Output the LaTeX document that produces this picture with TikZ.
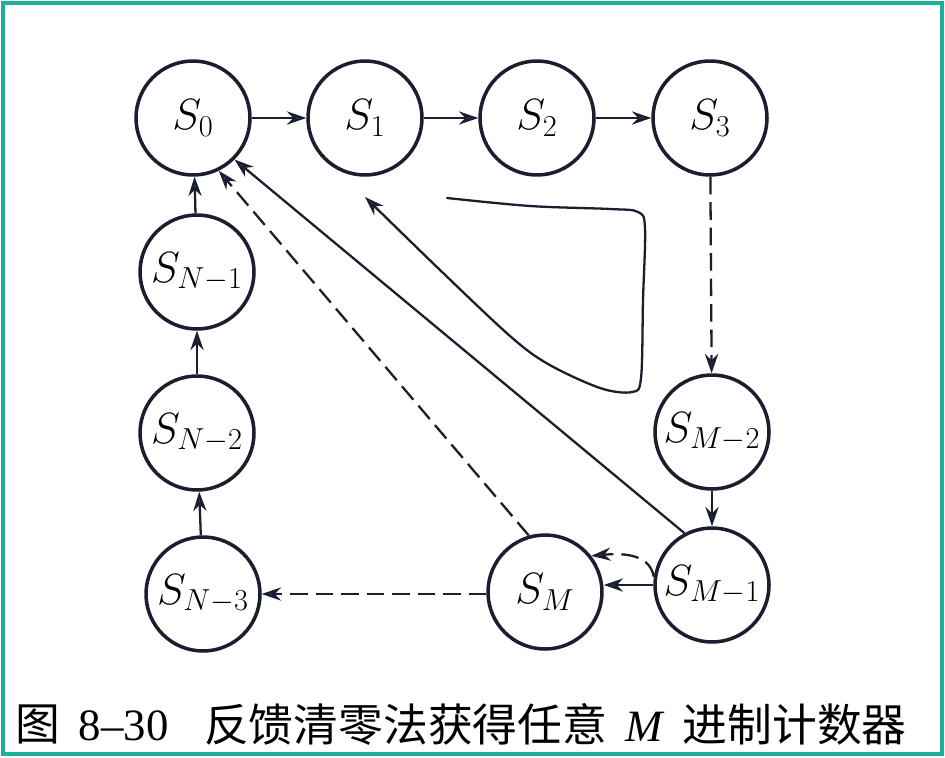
\documentclass[tikz,border=0pt]{standalone}
\usepackage{fontspec}
\newfontfamily\cjk{Noto Sans CJK SC}
\newfontfamily\numfont{Liberation Serif}
\usetikzlibrary{arrows.meta}
\definecolor{frameteal}{RGB}{28,176,156}
\definecolor{inkblue}{RGB}{26,30,46}
\definecolor{tipblue}{RGB}{44,60,92}

\begin{document}
\begin{tikzpicture}[x=0.02cm,y=-0.02cm,
  state/.style={circle,draw=inkblue,line width=2pt,minimum size=2.28cm,
    inner sep=0pt,font=\fontsize{27}{30}\selectfont},
  link/.style={draw=inkblue,line width=1.3pt,
    -{Stealth[length=11pt,width=7.5pt,fill=tipblue]}},
  jump/.style={link,dash pattern=on 10pt off 4.5pt},
  caption/.style={inner sep=0pt,font=\cjk\fontsize{25.5}{28}\selectfont}]
\useasboundingbox (0,0) rectangle (945,757);
\fill[white] (0,0) rectangle (945,757);
\draw[frameteal,line width=2.4pt] (3,3) rectangle (942,754);
% top row
\node[state] (s0) at (193,118) {$S_0$};
\node[state] (s1) at (365,118) {$S_1$};
\node[state] (s2) at (537,118) {$S_2$};
\node[state] (s3) at (710,118) {$S_3$};
% left column
\node[state] (sn1) at (197,272) {$S_{N-1}$};
\node[state] (sn2) at (197,433) {$S_{N-2}$};
\node[state] (sn3) at (203,594) {$S_{N-3}$};
% right side
\node[state] (sm2) at (712,432) {$S_{M-2}$};
\node[state] (sm1) at (712,585) {$S_{M-1}$};
\node[state] (sm) at (545,592) {$S_M$};
% counting arrows
\draw[link] (s0) -- (s1);
\draw[link] (s1) -- (s2);
\draw[link] (s2) -- (s3);
\draw[jump] (s3) -- (sm2);
\draw[link] (sm2) -- (sm1);
\draw[link] (sm1.west) -- (sm.east |- sm1.west);
\draw[jump] (sm1.172) to[out=100,in=5] (sm.38);
\draw[jump] (sm.west |- sn3.east) -- (sn3.east);
\draw[link] (sn3) -- (sn2);
\draw[link] (sn2) -- (sn1);
\draw[link] (sn1) -- (s0);
% reset arrows
\draw[jump] (sm.106) -- (s0.-64);
\draw[link] (sm1.118) -- (s0.-45);
% direction mark
\draw[link,line cap=round] plot[smooth,tension=0.55] coordinates {(447,198) (530,206)
  (610,209) (638,212) (645,228) (643,300) (641,378) (632,392) (600,388)
  (548,364) (510,336) (440,270) (365,197)};
% caption
\node[caption,anchor=west] (fignum) at (15,724)
  {图\hspace{0.42em}{\numfont 8–30}};
\node[caption,anchor=east] (figtitle) at (907,724)
  {反馈清零法获得任意\hspace{0.4em}{\numfont\itshape M}\hspace{0.45em}进制计数器};
\end{tikzpicture}
\end{document}
